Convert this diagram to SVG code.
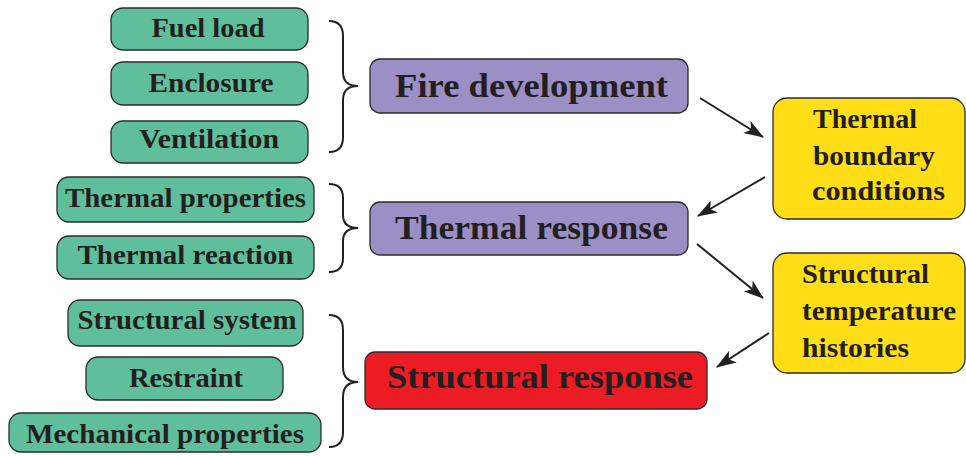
<svg xmlns="http://www.w3.org/2000/svg" width="966" height="456" viewBox="0 0 966 456">
<defs>
<style>
.g{fill:#5fbf9c;stroke:#2b2b2b;stroke-width:1.3}
.p{fill:#9b8fc5;stroke:#2b2b2b;stroke-width:1.3}
.r{fill:#ec1c24;stroke:#2b2b2b;stroke-width:1.3}
.y{fill:#ffdd17;stroke:#2b2b2b;stroke-width:1.3}
text{font-family:"Liberation Serif","Times New Roman",serif;font-weight:bold;fill:#231f20}
.s{font-size:27px;text-anchor:middle}
.b{font-size:34px;text-anchor:middle}
.t{font-size:28px}
.br{fill:none;stroke:#231f20;stroke-width:2}
.a{fill:none;stroke:#231f20;stroke-width:2;marker-end:url(#ah)}
</style>
<marker id="ah" viewBox="0 0 20 14" refX="19" refY="7" markerWidth="20" markerHeight="14" markerUnits="userSpaceOnUse" orient="auto">
<path d="M0,0 L20,7 L0,14 L5,7 Z" fill="#231f20"/>
</marker>
</defs>
<g id="fuel-load"><rect class="g" x="111" y="8" width="197" height="42" rx="12"/><text class="s" x="208" y="37" textLength="113" lengthAdjust="spacingAndGlyphs">Fuel load</text></g>
<g id="enclosure"><rect class="g" x="111" y="62" width="197" height="43" rx="12"/><text class="s" x="211" y="92" textLength="125" lengthAdjust="spacingAndGlyphs">Enclosure</text></g>
<g id="ventilation"><rect class="g" x="111" y="121" width="197" height="42" rx="12"/><text class="s" x="209" y="148" textLength="140" lengthAdjust="spacingAndGlyphs">Ventilation</text></g>
<g id="thermal-properties"><rect class="g" x="57" y="177" width="257" height="45" rx="12"/><text class="s" x="185.5" y="207" textLength="241" lengthAdjust="spacingAndGlyphs">Thermal properties</text></g>
<g id="thermal-reaction"><rect class="g" x="57" y="236" width="257" height="43" rx="12"/><text class="s" x="185.5" y="264" textLength="216" lengthAdjust="spacingAndGlyphs">Thermal reaction</text></g>
<g id="structural-system"><rect class="g" x="68" y="300" width="235" height="46" rx="12"/><text class="s" x="187" y="329" textLength="219" lengthAdjust="spacingAndGlyphs">Structural system</text></g>
<g id="restraint"><rect class="g" x="86" y="357" width="197" height="43" rx="12"/><text class="s" x="186" y="387" textLength="114" lengthAdjust="spacingAndGlyphs">Restraint</text></g>
<g id="mechanical-properties"><rect class="g" x="9" y="413" width="312" height="39" rx="12"/><text class="s" x="165" y="443" textLength="278" lengthAdjust="spacingAndGlyphs">Mechanical properties</text></g>
<g id="fire-development"><rect class="p" x="370" y="59" width="318" height="54" rx="10"/><text class="b" x="531.5" y="97" textLength="273" lengthAdjust="spacingAndGlyphs">Fire development</text></g>
<g id="thermal-response"><rect class="p" x="370" y="202" width="318" height="53" rx="10"/><text class="b" x="531.5" y="239" textLength="273" lengthAdjust="spacingAndGlyphs">Thermal response</text></g>
<g id="structural-response"><rect class="r" x="365" y="352" width="342" height="57" rx="10"/><text class="b" x="540" y="388" textLength="306" lengthAdjust="spacingAndGlyphs">Structural response</text></g>
<g id="thermal-boundary-conditions"><rect class="y" x="773" y="98" width="192" height="121" rx="14"/>
<text class="t" x="813" y="128" textLength="104" lengthAdjust="spacingAndGlyphs">Thermal</text>
<text class="t" x="813" y="165" textLength="122" lengthAdjust="spacingAndGlyphs">boundary</text>
<text class="t" x="812" y="200" textLength="133" lengthAdjust="spacingAndGlyphs">conditions</text></g>
<g id="structural-temperature-histories"><rect class="y" x="773" y="253" width="192" height="120" rx="14"/>
<text class="t" x="802" y="283" textLength="127" lengthAdjust="spacingAndGlyphs">Structural</text>
<text class="t" x="802" y="320" textLength="154" lengthAdjust="spacingAndGlyphs">temperature</text>
<text class="t" x="802" y="357" textLength="107" lengthAdjust="spacingAndGlyphs">histories</text></g>
<g id="connectors">
<path class="br" d="M329,21 Q343,21 343,36 L343,72 Q343,86 358,86 Q343,86 343,100 L343,137 Q343,152 329,152"/>
<path class="br" d="M329,184 Q343,184 343,198 L343,215 Q343,228 358,228 Q343,228 343,241 L343,258 Q343,272 329,272"/>
<path class="br" d="M329,315 Q343,315 343,330 L343,367 Q343,382 358,382 Q343,382 343,397 L343,432 Q343,447 329,447"/>
<path class="a" d="M700,98 L763,137"/>
<path class="a" d="M765,177 L698,216"/>
<path class="a" d="M697,244 L763,298"/>
<path class="a" d="M769,333 L717,367"/>
</g>
</svg>
